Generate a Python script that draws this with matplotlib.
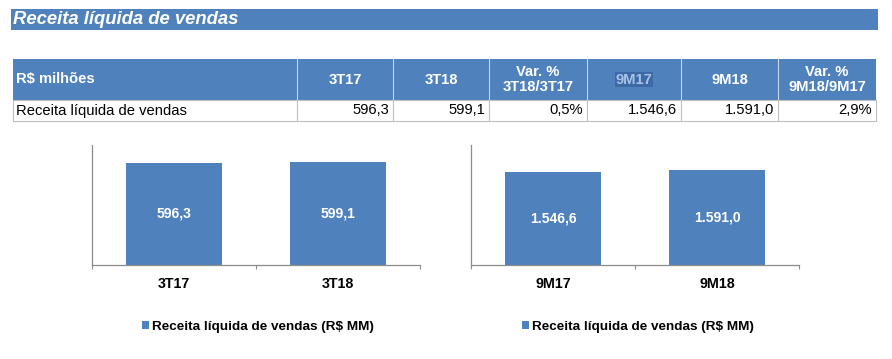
import matplotlib
matplotlib.use('Agg')
import matplotlib.pyplot as plt
from matplotlib.patches import Rectangle

plt.rcParams['font.family'] = ['Liberation Sans', 'DejaVu Sans']

# ---- data ----
title = "Receita líquida de vendas"
header_cols = ["R$ milhões", "3T17", "3T18", "Var. %\n3T18/3T17", "9M17", "9M18", "Var. %\n9M18/9M17"]
row_label = "Receita líquida de vendas"
row_values = ["596,3", "599,1", "0,5%", "1.546,6", "1.591,0", "2,9%"]
quarter_labels = ["3T17", "3T18"]
quarter_values = [596.3, 599.1]
ytd_labels = ["9M17", "9M18"]
ytd_values = [1546.6, 1591.0]
legend_label = "Receita líquida de vendas (R$ MM)"

BLUE = '#4F81BD'
W, H = 892, 359
fig = plt.figure(figsize=(W / 100, H / 100), dpi=100)
bg = fig.add_axes([0, 0, 1, 1])
bg.set_xlim(0, W)
bg.set_ylim(H, 0)
bg.axis('off')

# title bar
bg.add_patch(Rectangle((11, 9), 867, 21, facecolor=BLUE, edgecolor='none'))
bg.text(13, 19.5, title, color='white', fontsize=13.3, fontweight='bold',
        fontstyle='italic', va='center', ha='left')

# table
edges = [13, 297, 393, 489, 587, 681, 778, 876]
hy0, hy1, dy1 = 59, 100, 121
TFS = 10.6
bg.add_patch(Rectangle((edges[0], hy0), edges[-1] - edges[0], hy1 - hy0,
                       facecolor=BLUE, edgecolor='none'))
for x in edges[1:-1]:
    bg.plot([x, x], [hy0, hy1], color='#C8D6EA', lw=0.8)
    bg.plot([x, x], [hy1, dy1], color='#BFBFBF', lw=0.8)
bg.plot([edges[0], edges[-1], edges[-1], edges[0], edges[0]],
        [hy1, hy1, dy1, dy1, hy1], color='#BFBFBF', lw=0.8)

for i, txt in enumerate(header_cols):
    if i == 0:
        bg.text(edges[0] + 3, (hy0 + hy1) / 2, txt, color='white', fontsize=TFS,
                fontweight='bold', va='center', ha='left')
    else:
        cx = (edges[i] + edges[i + 1]) / 2
        kw = {}
        color = 'white'
        if txt == "9M17":
            color = '#A9C3E6'
            kw = dict(bbox=dict(boxstyle='square,pad=0.05', facecolor='#3D6AA6',
                                edgecolor='none'))
        bg.text(cx, (hy0 + hy1) / 2, txt, color=color, fontsize=TFS,
                fontweight='bold', va='center', ha='center', linespacing=1.1, **kw)

bg.text(edges[0] + 3, (hy1 + dy1) / 2, row_label, color='black', fontsize=TFS,
        va='center', ha='left')
for i, txt in enumerate(row_values):
    bg.text(edges[i + 2] - 4, (hy1 + dy1) / 2, txt, color='black', fontsize=TFS,
            va='center', ha='right')


def px_axes(x0, y0, x1, y1):
    return fig.add_axes([x0 / W, 1 - y1 / H, (x1 - x0) / W, (y1 - y0) / H])


def fmt_br(v):
    s = f"{v:,.1f}"
    return s.replace(',', '#').replace('.', ',').replace('#', '.')


def bar_chart(ax, labels, values, ymax, legend_cx):
    pos = list(range(len(labels)))
    bars = ax.bar(pos, values, width=0.59, color=BLUE, label=legend_label)
    ax.set_xlim(-0.5, len(labels) - 0.5)
    ax.set_ylim(0, ymax)
    for b, v in zip(bars, values):
        ax.text(b.get_x() + b.get_width() / 2, v / 2, fmt_br(v), color='white',
                fontsize=10, fontweight='bold', ha='center', va='center')
    for s in ['top', 'right']:
        ax.spines[s].set_visible(False)
    for s in ['left', 'bottom']:
        ax.spines[s].set_color('#8C8C8C')
        ax.spines[s].set_linewidth(0.9)
    ax.set_yticks([])
    ax.set_xticks([p - 0.5 for p in pos] + [len(labels) - 0.5])
    ax.set_xticklabels([])
    ax.tick_params(axis='x', which='major', length=3, color='#8C8C8C', direction='out')
    ax.set_xticks(pos, minor=True)
    ax.set_xticklabels(labels, minor=True, fontsize=10.3, fontweight='bold')
    ax.tick_params(axis='x', which='minor', length=0, pad=9)
    ax.legend(loc='center', bbox_to_anchor=(legend_cx / W, 1 - 327 / H),
              bbox_transform=fig.transFigure, frameon=False, handlelength=0.55,
              handleheight=0.55, handletextpad=0.25,
              prop=dict(weight='bold', size=9.7))


ax1 = px_axes(92, 145, 420, 265)
bar_chart(ax1, quarter_labels, quarter_values, 700, 258)
ax2 = px_axes(471, 145, 799, 265)
bar_chart(ax2, ytd_labels, ytd_values, 2000, 638)

fig.savefig('out.png', dpi=100)
